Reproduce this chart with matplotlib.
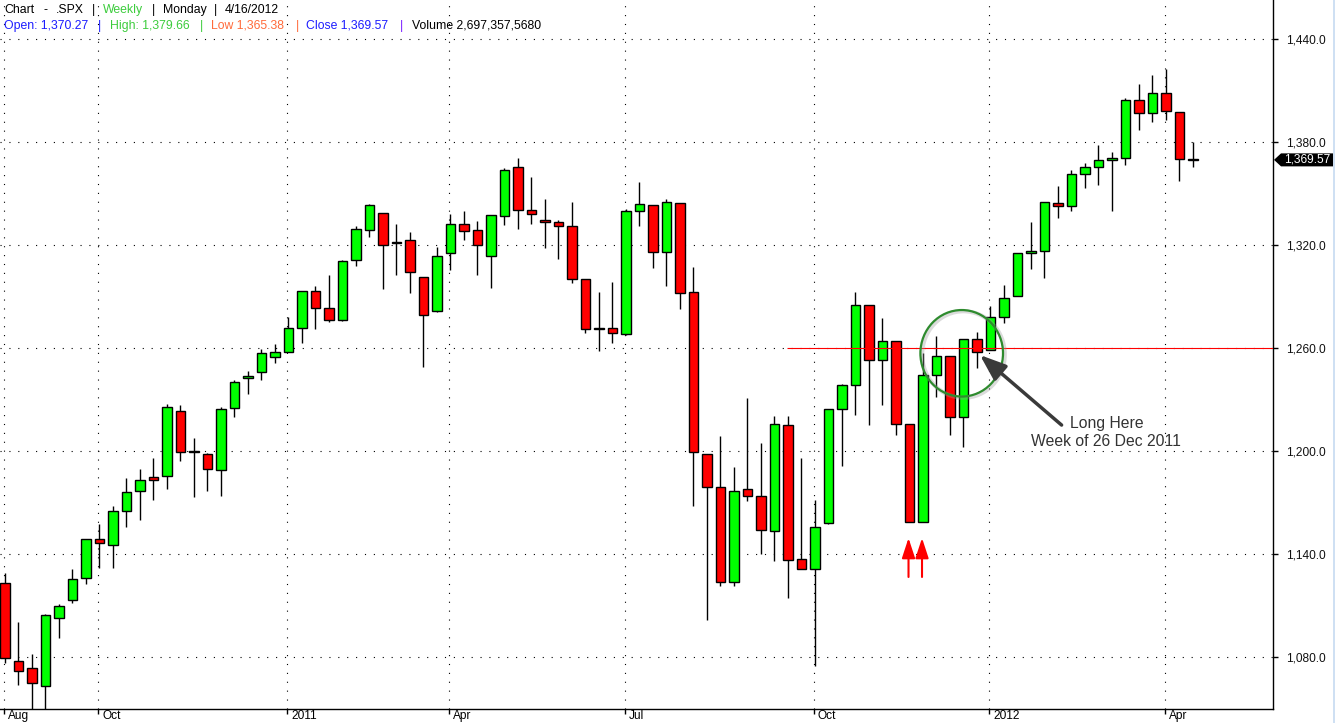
import numpy as np
import pandas as pd
import matplotlib.pyplot as plt
from matplotlib.patches import Ellipse, Polygon, Rectangle
from matplotlib.transforms import blended_transform_factory

plt.rcParams['font.family'] = ['Liberation Sans', 'DejaVu Sans']

# --- weekly SPX bars (Monday dates) ---
weeks = pd.date_range("2010-08-09", "2012-04-16", freq="W-MON")

opens = [1122.9, 1077.6, 1073.4, 1062.9, 1102.6, 1113.4, 1126.1, 1148.6, 1145.0, 1165.3,
         1176.8, 1184.7, 1185.7, 1223.2, 1199.2, 1198.1, 1189.1, 1225.0, 1242.5, 1245.8,
         1254.7, 1257.6, 1271.5, 1293.2, 1283.3, 1276.5, 1311.2, 1328.7, 1338.9, 1321.6,
         1322.7, 1301.2, 1281.7, 1315.5, 1332.0, 1329.0, 1313.4, 1337.1, 1365.2, 1340.2,
         1334.8, 1333.1, 1331.1, 1300.3, 1271.3, 1271.5, 1268.4, 1339.6, 1343.3, 1316.1,
         1344.3, 1292.6, 1198.5, 1178.9, 1123.6, 1177.9, 1174.0, 1153.5, 1215.0, 1136.9,
         1131.2, 1158.2, 1224.5, 1238.7, 1285.0, 1253.2, 1263.9, 1215.6, 1158.7, 1244.3,
         1255.1, 1219.7, 1265.0, 1258.9, 1277.8, 1290.2, 1315.3, 1316.2, 1344.3, 1342.6,
         1361.2, 1365.2, 1369.6, 1370.8, 1404.2, 1397.1, 1408.5, 1397.5, 1370.3]
highs = [1129.2, 1100.1, 1081.6, 1105.1, 1110.9, 1131.5, 1148.9, 1157.2, 1167.7, 1184.4,
         1189.4, 1196.1, 1227.1, 1226.8, 1207.4, 1198.9, 1225.6, 1241.3, 1246.7, 1259.4,
         1262.6, 1278.2, 1293.2, 1296.1, 1302.7, 1311.0, 1330.8, 1344.1, 1338.9, 1332.3,
         1327.7, 1301.2, 1319.0, 1337.9, 1339.5, 1333.8, 1337.5, 1364.6, 1370.6, 1359.4,
         1346.8, 1334.6, 1345.2, 1300.3, 1292.5, 1298.6, 1340.7, 1356.5, 1343.3, 1347.0,
         1344.3, 1307.4, 1198.5, 1208.5, 1190.7, 1230.7, 1204.4, 1220.4, 1220.1, 1195.9,
         1171.4, 1224.6, 1239.0, 1292.7, 1285.0, 1277.6, 1264.3, 1215.6, 1257.0, 1267.1,
         1255.1, 1265.4, 1269.4, 1284.6, 1296.8, 1315.5, 1333.5, 1345.3, 1354.3, 1363.4,
         1367.8, 1378.0, 1374.1, 1405.9, 1414.0, 1419.2, 1422.4, 1397.5, 1379.7]
lows = [1076.6, 1063.9, 1039.7, 1040.9, 1091.2, 1111.7, 1122.8, 1131.9, 1131.9, 1155.7,
        1159.7, 1171.7, 1177.7, 1194.1, 1173.0, 1176.9, 1173.6, 1219.6, 1232.9, 1241.5,
        1251.5, 1257.6, 1262.7, 1271.3, 1275.1, 1276.0, 1307.6, 1324.6, 1294.3, 1302.6,
        1292.0, 1249.1, 1281.0, 1305.3, 1322.9, 1302.4, 1294.7, 1331.6, 1329.2, 1332.0,
        1318.5, 1311.8, 1297.9, 1268.5, 1258.1, 1262.9, 1267.3, 1331.1, 1306.6, 1295.9,
        1282.9, 1168.1, 1101.5, 1121.1, 1121.1, 1170.9, 1140.2, 1136.1, 1114.2, 1131.1,
        1074.8, 1157.2, 1191.5, 1220.9, 1215.4, 1226.6, 1209.4, 1158.7, 1158.7, 1231.5,
        1209.5, 1202.4, 1248.6, 1258.9, 1274.7, 1290.2, 1306.1, 1300.5, 1335.9, 1340.0,
        1352.9, 1354.9, 1340.0, 1366.7, 1386.9, 1391.6, 1392.9, 1357.4, 1365.4]
closes = [1079.3, 1071.7, 1064.6, 1104.5, 1109.6, 1125.6, 1148.7, 1146.2, 1165.2, 1176.2,
          1183.1, 1183.3, 1225.9, 1199.2, 1199.7, 1189.4, 1224.7, 1240.4, 1243.9, 1256.8,
          1257.6, 1271.5, 1293.2, 1283.4, 1276.3, 1310.9, 1329.2, 1343.0, 1319.9, 1321.2,
          1304.3, 1279.2, 1313.8, 1332.4, 1328.2, 1319.7, 1337.4, 1363.6, 1340.2, 1337.8,
          1333.3, 1331.1, 1300.2, 1271.0, 1271.5, 1268.5, 1339.7, 1343.8, 1316.1, 1345.0,
          1292.3, 1199.4, 1178.8, 1123.5, 1176.8, 1174.0, 1154.2, 1216.0, 1136.4, 1131.4,
          1155.5, 1224.6, 1238.3, 1285.1, 1253.2, 1263.9, 1215.7, 1158.7, 1244.3, 1255.2,
          1219.7, 1265.3, 1257.6, 1277.8, 1289.1, 1315.4, 1316.3, 1344.9, 1342.6, 1361.2,
          1365.7, 1369.6, 1370.9, 1404.2, 1397.1, 1408.5, 1398.1, 1370.3, 1369.6]

tick_dates = ["2010-08-09", "2010-09-27", "2011-01-03", "2011-03-28",
              "2011-06-27", "2011-10-03", "2012-01-02", "2012-04-02"]
tick_labels = ["Aug", "Oct", "2011", "Apr", "Jul", "Oct", "2012", "Apr"]
price_ticks = [1080, 1140, 1200, 1260, 1320, 1380, 1440]

level = 1260.0
level_from = "2011-09-19"
long_week = "2011-12-26"
signal_weeks = ["2011-11-21", "2011-11-28"]
last_close = 1369.57


def idx(d):
    return weeks.get_loc(pd.Timestamp(d))


W, H = 1335, 723
fig = plt.figure(figsize=(W / 100, H / 100), dpi=100)
ax = fig.add_axes([0, 14 / H, 1273 / W, 709 / H])

x = np.arange(len(weeks))
o, hi, lo, c = map(np.array, (opens, highs, lows, closes))
cols = np.where(c >= o, '#00FF00', '#FF0000')

ax.vlines(x, lo, hi, color='black', lw=1.0, zorder=2)
ax.bar(x, c - o, bottom=o, width=0.69, color=cols, edgecolor='black',
       linewidth=1.0, zorder=3)

ax.set_xlim(-0.37, 93.93)
ax.set_ylim(1049.7, 1462.7)

# axes / grid
tpos = [idx(d) - 0.1 for d in tick_dates]
ax.set_xticks(tpos)
ax.set_xticklabels([])
ax.set_yticks(price_ticks)
ax.set_yticklabels([f"{v:,.1f}" for v in price_ticks])
ax.yaxis.tick_right()
ax.tick_params(axis='x', direction='out', length=3.6, width=1)
ax.tick_params(axis='y', direction='out', length=3.6, width=1, pad=6,
               labelsize=8.6, labelcolor='#111111')
for s in ('left', 'top'):
    ax.spines[s].set_visible(False)
for s in ('bottom', 'right'):
    ax.spines[s].set_linewidth(1.0)
ax.grid(True, color='black', linestyle=(0, (1, 7)), linewidth=0.8, zorder=0)
ax.set_axisbelow(True)

xtr = ax.get_xaxis_transform()
for p, lab in zip(tpos, tick_labels):
    ax.text(p + 0.3, -0.002, lab, transform=xtr, ha='left', va='top',
            fontsize=8.6, clip_on=False)

# support / breakout level
ax.hlines(level, idx(level_from) - 0.07, 93.93, color='red', lw=0.8, zorder=5)

# annotation: circle + arrow + text
li = idx(long_week)
ax.add_patch(Ellipse((li - 1.0, 1256.2), 6.12, 50.4, fill=False,
                     edgecolor='#9a9a9a', lw=3.0, alpha=0.35, zorder=5))
ax.add_patch(Ellipse((li - 1.13, 1256.9), 6.12, 50.4, fill=False,
                     edgecolor='#2E8B2E', lw=1.6, zorder=6))
ax.annotate('', xy=(li + 0.22, 1255.9), xytext=(li + 6.27, 1215.1),
            arrowprops=dict(arrowstyle='-|>,head_length=1.6,head_width=0.6',
                            mutation_scale=10, lw=2.5, color='#3a3a3a',
                            shrinkA=0, shrinkB=0), zorder=7)
ax.text(li + 9.6, 1216.1, "Long Here", ha='center', va='center',
        fontsize=11.3, color='#333333', zorder=7)
ax.text(li + 9.55, 1205.8, "Week of 26 Dec 2011", ha='center', va='center',
        fontsize=11.3, color='#333333', zorder=7)

for s in signal_weeks:
    ax.annotate('', xy=(idx(s) - 0.07, 1149.3), xytext=(idx(s) - 0.07, 1126.6),
                arrowprops=dict(arrowstyle='-|>,head_length=1.22,head_width=0.4',
                                mutation_scale=10, lw=1.5, color='red',
                                shrinkA=0, shrinkB=0), zorder=7)

# last price marker on the right axis
btr = blended_transform_factory(ax.transAxes, ax.transData)
hh = 6.5 / 1.7167
box = Polygon([(1.0008, last_close), (1.0063, last_close + hh),
               (1.0475, last_close + hh), (1.0475, last_close - hh),
               (1.0063, last_close - hh)], closed=True, transform=btr,
              facecolor='black', edgecolor='none', clip_on=False, zorder=8)
ax.add_patch(box)
ax.text(1.0269, last_close, f"{last_close:,.2f}", transform=btr, color='white',
        fontsize=8.6, ha='center', va='center', clip_on=False, zorder=9)

fig.patches.append(Rectangle((1333 / W, 0), 2 / W, 1, transform=fig.transFigure,
                             facecolor='#cfe0f3', edgecolor='none'))

# header
def head(px, py, s, col):
    fig.text(px / W, 1 - py / H, s, color=col, fontsize=8.8, ha='left', va='baseline')

row1 = [(4, "Chart", 'black'), (43, "-", 'black'), (56, ".SPX", 'black'),
        (91.5, "|", 'black'), (103, "Weekly", '#3ccc3c'), (152, "|", 'black'),
        (163.5, "Monday", 'black'), (213.5, "|", 'black'), (225, "4/16/2012", 'black')]
row2 = [(4, "Open: 1,370.27", '#1c1cff'), (98, "|", '#1c1cff'),
        (109.6, "High: 1,379.66", '#3ccc3c'), (200, "|", '#3ccc3c'),
        (210.8, "Low 1,365.38", '#ff6a3a'), (295.4, "|", '#ff6a3a'),
        (305.8, "Close 1,369.57", '#1c1cff'), (400, "|", '#7a1cff'),
        (411.5, "Volume 2,697,357,5680", 'black')]
for px, s, col in row1:
    head(px, 13, s, col)
for px, s, col in row2:
    head(px, 29, s, col)

fig.savefig("out.png", dpi=100)
